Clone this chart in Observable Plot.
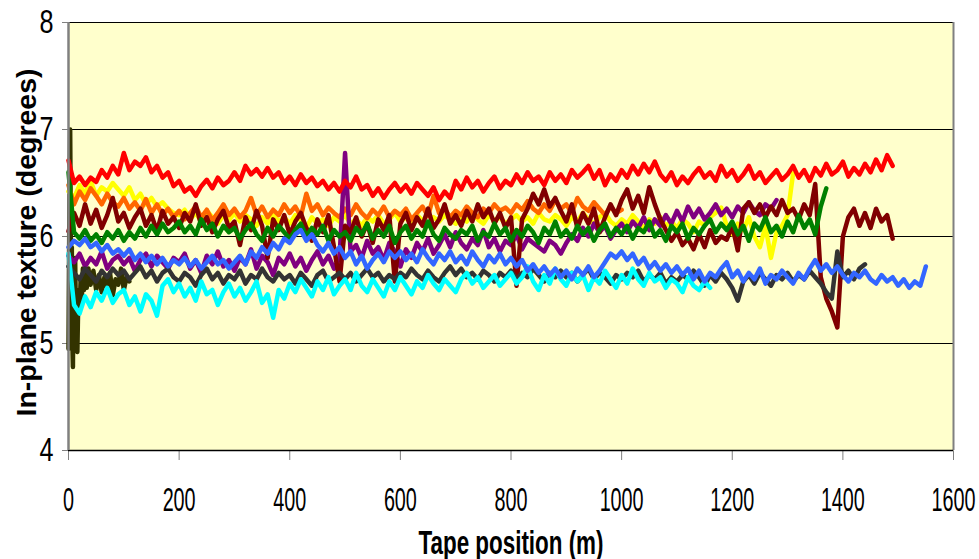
<!DOCTYPE html>
<html><head><meta charset="utf-8">
<script src="https://cdn.jsdelivr.net/npm/d3@7"></script>
<script src="https://cdn.jsdelivr.net/npm/@observablehq/plot@0.6"></script>
<style>
html,body{margin:0;padding:0;background:#fff;}
#chart svg{display:block;}
[aria-label="x-axis tick"] path,[aria-label="y-axis tick"] path,.tick line{stroke:#808080;}
</style>
</head><body><div id="chart"></div>
<script>
// ---- data ----
const xTicks = [0, 200, 400, 600, 800, 1000, 1200, 1400, 1600];
const yTicks = [4, 5, 6, 7, 8];
const xTitle = "Tape position (m)";
const yTitle = "In-plane texture (degrees)";
const sampleStep = 10; // metres between readings

const oliveX = [0,1,2,3,4,5,6,7,8,9,10,12,14,16,18,20,22,24,26,28,30,33,36,40,45,50,55,60,65,70,75,80,85,90,95,100,105,110];
const oliveValues = [4.95,5.8,6.5,7.0,6.2,5.2,5.9,5.0,4.78,5.6,5.3,5.8,5.0,4.92,5.5,5.3,5.6,5.4,5.7,5.5,5.65,5.52,5.7,5.55,5.68,5.5,5.64,5.48,5.62,5.52,5.66,5.45,5.6,5.55,5.7,5.5,5.62,5.58];

const yellowValues = [6.42,6.36,6.48,6.40,6.52,6.38,6.46,6.42,6.50,6.44,
6.38,6.46,6.34,6.40,6.30,6.36,6.28,6.32,6.26,6.22,
6.20,6.25,6.16,6.22,6.14,6.24,6.18,6.12,6.20,6.15,
6.22,6.14,6.20,6.16,6.10,6.18,6.12,6.20,6.14,6.18,
6.12,6.20,6.15,6.08,6.18,6.12,6.16,6.10,6.18,6.14,
6.20,6.12,6.16,6.10,6.18,6.14,6.20,6.12,6.16,6.22,
6.14,6.18,6.12,6.20,6.15,6.10,6.18,6.14,6.20,6.16,
6.12,6.18,6.14,6.22,6.16,6.12,6.20,6.15,6.18,6.12,
6.16,6.20,6.14,6.18,6.12,6.22,6.16,6.14,6.20,6.16,
6.10,6.18,6.14,6.22,6.16,6.12,6.18,6.22,6.14,6.10,
6.16,6.12,6.20,6.14,6.08,6.16,6.12,6.18,6.10,6.14,
6.08,6.16,6.12,6.04,6.14,6.10,6.18,6.22,6.27,6.10,
6.02,6.12,6.06,6.18,6.00,5.90,6.10,5.80,6.04,6.10,
6.20,6.59];

const orangeValues = [6.48,6.30,6.42,6.34,6.45,6.38,6.30,6.40,6.32,6.28,
6.36,6.26,6.32,6.24,6.35,6.22,6.30,6.20,6.26,6.18,
6.24,6.16,6.22,6.28,6.18,6.25,6.15,6.22,6.30,6.20,
6.26,6.18,6.24,6.36,6.20,6.28,6.18,6.25,6.20,6.30,
6.22,6.28,6.19,6.40,6.24,6.30,6.20,6.27,6.22,6.18,
6.26,6.20,6.30,6.22,6.17,6.25,6.20,6.28,6.18,6.24,
6.20,6.26,6.16,6.22,6.28,6.19,6.38,6.22,6.26,6.18,
6.24,6.20,6.28,6.22,6.18,6.26,6.22,6.30,6.24,6.27,
6.22,6.30,6.25,6.33,6.26,6.22,6.30,6.24,6.34,6.26,
6.30,6.22,6.36,6.28,6.24,6.32,6.26,6.20,6.28,6.22,
6.25];

const purpleValues = [5.82,5.76,5.84,5.72,5.80,5.74,5.86,5.70,5.78,5.82,
5.74,5.80,5.68,5.78,5.84,5.72,5.82,5.76,5.70,5.80,
5.76,5.84,5.70,5.78,5.66,5.82,5.74,5.86,5.72,5.78,
5.68,5.80,5.74,5.88,5.70,5.82,5.76,5.64,5.80,5.74,
5.84,5.72,5.80,5.68,5.78,5.86,5.74,5.82,5.70,5.80,
6.78,5.86,5.92,5.80,5.96,5.84,5.90,5.78,5.94,5.86,
5.72,5.88,5.80,5.94,5.86,5.98,5.84,5.92,6.02,5.90,
6.04,5.94,5.88,5.98,5.92,6.06,5.90,5.98,5.86,5.96,
5.92,6.02,5.88,5.98,5.94,5.90,5.86,5.96,5.92,5.84,
5.94,6.02,5.96,6.08,6.00,6.12,6.04,6.10,5.98,6.06,
6.12,6.04,6.14,6.08,6.18,6.06,6.16,6.10,6.20,6.12,
6.24,6.14,6.28,6.18,6.26,6.16,6.22,6.30,6.20,6.26,
6.18,6.28,6.22,6.32,6.24,6.20,6.30,6.26,6.34];

const maroonValues = [6.05,6.22,6.10,6.30,6.12,6.25,6.08,6.20,6.36,6.14,
6.22,6.08,6.18,6.26,6.10,6.20,6.05,6.24,6.12,6.18,
6.08,6.22,6.14,6.30,6.10,6.18,6.04,6.16,6.24,6.08,
6.14,5.92,6.18,6.06,6.24,6.10,5.80,6.16,6.06,6.20,
6.02,6.14,6.22,6.08,5.96,6.16,6.04,6.20,5.90,5.58,
6.10,6.04,6.18,6.00,6.12,5.94,6.16,6.06,6.20,5.58,
6.12,6.22,6.06,6.18,6.10,6.26,6.08,6.16,6.30,6.12,
6.20,6.10,6.24,6.14,6.30,6.18,6.26,6.12,6.22,6.08,
6.18,5.54,6.16,6.26,6.40,6.30,6.44,6.28,6.36,6.24,
6.14,6.30,6.08,6.22,6.12,6.26,6.04,6.18,6.30,6.20,
6.34,6.44,6.26,6.38,6.22,6.46,6.30,6.16,6.06,5.96,
6.04,5.92,5.98,5.88,6.02,5.90,6.06,5.94,6.00,5.97,
6.10,5.87,6.26,6.32,6.22,6.30,6.18,6.28,6.20,6.34,
6.22,6.26,6.16,6.30,6.20,6.49,5.62,5.42,5.30,5.15,
6.00,6.18,6.26,6.10,6.22,6.08,6.26,6.14,6.20,5.98];

const grayValues = [5.72,5.66,5.60,5.70,5.64,5.58,5.68,5.62,5.70,5.64,
5.68,5.60,5.66,5.72,5.62,5.68,5.58,5.66,5.70,5.62,
5.58,5.66,5.62,5.54,5.64,5.70,5.60,5.66,5.56,5.64,
5.60,5.68,5.56,5.64,5.60,5.70,5.62,5.58,5.66,5.60,
5.64,5.56,5.66,5.60,5.54,5.64,5.68,5.58,5.62,5.66,
5.60,5.66,5.58,5.64,5.70,5.62,5.66,5.58,5.64,5.60,
5.66,5.62,5.70,5.64,5.60,5.68,5.62,5.58,5.66,5.72,
5.64,5.70,5.62,5.66,5.60,5.68,5.64,5.58,5.66,5.62,
5.68,5.60,5.66,5.62,5.70,5.64,5.58,5.66,5.62,5.68,
5.62,5.66,5.58,5.64,5.70,5.60,5.66,5.62,5.56,5.64,
5.60,5.66,5.62,5.68,5.58,5.64,5.60,5.66,5.56,5.62,
5.58,5.64,5.60,5.68,5.62,5.54,5.64,5.58,5.66,5.60,
5.52,5.40,5.58,5.64,5.56,5.66,5.60,5.54,5.64,5.60,
5.66,5.58,5.64,5.60,5.68,5.62,5.56,5.48,5.42,5.86,
5.62,5.68,5.60,5.70,5.74];

const greenValues = [6.60,6.04,5.98,6.06,5.96,6.02,5.94,6.04,5.98,6.06,
5.96,6.04,5.98,6.08,6.00,6.10,6.02,6.12,6.04,6.08,
6.14,6.04,6.10,6.02,6.16,6.06,6.12,6.00,6.10,6.04,
6.08,5.98,6.06,6.12,6.02,5.96,6.08,6.00,6.10,6.04,
5.98,6.06,6.12,6.00,6.08,6.02,6.10,5.96,6.06,6.00,
6.04,5.96,6.08,6.02,6.12,5.98,6.06,6.00,6.10,5.94,
6.04,6.10,5.98,6.06,6.00,6.14,6.02,5.96,6.08,6.02,
5.98,6.06,6.02,6.10,5.96,6.04,6.00,6.12,6.02,6.08,
5.96,6.06,6.00,6.10,6.04,5.94,6.08,6.02,6.14,6.00,
6.06,5.98,6.10,6.02,6.08,5.96,6.06,6.12,6.00,6.08,
6.02,6.10,5.98,6.08,6.04,6.14,6.00,6.06,5.96,6.10,
6.04,6.12,5.98,6.08,6.02,6.10,6.16,6.04,6.12,6.06,
6.14,6.02,6.10,5.96,6.12,6.06,6.18,6.04,6.10,6.00,
6.14,6.04,6.20,6.08,6.16,6.02,6.28,6.45];

const cyanValues = [5.84,5.36,5.28,5.44,5.34,5.48,5.40,5.52,5.38,5.46,
5.50,5.36,5.44,5.30,5.46,5.40,5.26,5.54,5.60,5.48,
5.56,5.44,5.52,5.40,5.58,5.46,5.50,5.36,5.48,5.56,
5.44,5.52,5.40,5.48,5.58,5.38,5.46,5.24,5.50,5.42,
5.56,5.48,5.60,5.52,5.44,5.58,5.50,5.62,5.46,5.54,
5.60,5.50,5.66,5.54,5.48,5.60,5.52,5.44,5.58,5.50,
5.62,5.54,5.46,5.58,5.52,5.64,5.56,5.50,5.60,5.54,
5.48,5.60,5.66,5.56,5.62,5.52,5.58,5.64,5.54,5.60,
5.66,5.56,5.62,5.72,5.58,5.50,5.64,5.56,5.70,5.60,
5.54,5.66,5.58,5.64,5.50,5.62,5.56,5.68,5.60,5.52,
5.64,5.56,5.70,5.60,5.54,5.66,5.58,5.62,5.52,5.60,
5.56,5.48,5.62,5.54,5.50,5.58,5.52];

const blueValues = [5.90,5.96,5.92,5.98,5.90,5.94,5.86,5.92,5.84,5.88,
5.82,5.88,5.78,5.84,5.76,5.82,5.74,5.80,5.72,5.78,
5.74,5.80,5.72,5.78,5.70,5.76,5.82,5.74,5.78,5.70,
5.76,5.82,5.74,5.86,5.80,5.90,5.84,5.94,5.88,5.98,
5.94,6.02,6.06,5.96,6.02,5.92,5.86,5.94,5.84,5.90,
5.80,5.86,5.74,5.82,5.70,5.78,5.84,5.76,5.86,5.80,
5.86,5.78,5.84,5.76,5.88,5.80,5.74,5.84,5.78,5.86,
5.76,5.82,5.74,5.86,5.78,5.72,5.82,5.76,5.84,5.74,
5.80,5.72,5.78,5.68,5.74,5.66,5.72,5.64,5.70,5.62,
5.68,5.60,5.70,5.64,5.72,5.62,5.68,5.76,5.84,5.80,
5.86,5.78,5.84,5.74,5.80,5.70,5.76,5.68,5.74,5.66,
5.72,5.64,5.70,5.60,5.68,5.58,5.66,5.62,5.70,5.76,
5.62,5.68,5.58,5.66,5.60,5.70,5.56,5.64,5.60,5.68,
5.62,5.56,5.66,5.60,5.70,5.78,5.68,5.74,5.66,5.72,
5.64,5.58,5.66,5.62,5.68,5.60,5.56,5.64,5.58,5.62,
5.54,5.60,5.52,5.58,5.54,5.72];

const redValues = [6.71,6.50,6.56,6.48,6.55,6.51,6.62,6.55,6.66,6.58,
6.78,6.62,6.70,6.66,6.74,6.60,6.66,6.55,6.60,6.47,
6.52,6.42,6.46,6.38,6.47,6.53,6.45,6.55,6.48,6.52,
6.60,6.52,6.66,6.58,6.63,6.56,6.64,6.55,6.60,6.50,
6.56,6.48,6.58,6.50,6.55,6.47,6.52,6.44,6.50,6.42,
6.52,6.46,6.56,6.44,6.48,6.38,6.45,6.36,6.44,6.50,
6.42,6.48,6.40,6.50,6.44,6.38,6.46,6.34,6.42,6.36,
6.52,6.44,6.55,6.46,6.52,6.42,6.50,6.56,6.45,6.52,
6.48,6.58,6.50,6.60,6.52,6.56,6.48,6.60,6.52,6.58,
6.50,6.62,6.55,6.60,6.66,6.54,6.62,6.48,6.58,6.52,
6.62,6.55,6.66,6.58,6.68,6.60,6.70,6.58,6.52,6.60,
6.48,6.56,6.50,6.58,6.64,6.55,6.60,6.52,6.66,6.56,
6.62,6.52,6.58,6.66,6.54,6.60,6.50,6.56,6.62,6.53,
6.58,6.66,6.55,6.62,6.52,6.64,6.57,6.68,6.58,6.62,
6.70,6.56,6.64,6.58,6.68,6.60,6.72,6.62,6.76,6.66];

// draw order (bottom to top) and colours
const seriesOrder = ["olive","yellow","orange","purple","maroon","gray","green","cyan","blue","red"];
const seriesColors = {olive:"#333300", yellow:"#FFFF00", orange:"#FF6600", purple:"#800080", maroon:"#800000",
  gray:"#333333", green:"#008000", cyan:"#00FFFF", blue:"#3366FF", red:"#FF0000"};
const seriesValues = {yellow:yellowValues, orange:orangeValues, purple:purpleValues, maroon:maroonValues,
  gray:grayValues, green:greenValues, cyan:cyanValues, blue:blueValues, red:redValues};

function rowsFor(name) {
  if (name === "olive") return oliveX.map((x, i) => ({x, y: oliveValues[i]}));
  return seriesValues[name].map((y, i) => ({x: i * sampleStep, y}));
}

const FONT = '"Liberation Sans Narrow","Arial Narrow","Liberation Sans",Arial,sans-serif';

const chart = Plot.plot({
  width: 979, height: 559,
  marginLeft: 68, marginRight: 26, marginTop: 22, marginBottom: 109,
  style: {background: "#fff", fontFamily: FONT, fontSize: "33px", color: "#000", overflow: "visible"},
  x: {domain: [0, 1600], ticks: xTicks, tickSize: 10, tickPadding: 27, tickFormat: d => String(d), label: null},
  y: {domain: [4, 8], ticks: yTicks, tickSize: 6, tickPadding: 9, tickFormat: d => String(d), label: null},
  marks: [
    Plot.frame({fill: "#FFFFCC", stroke: null}),
    Plot.ruleY(yTicks.filter(v => v > 4), {stroke: "#000", strokeWidth: 1.2}),
    ...seriesOrder.map(name => Plot.line(rowsFor(name), {x: "x", y: "y", stroke: seriesColors[name],
      strokeWidth: 4.5, strokeLinejoin: "round", strokeLinecap: "round"})),
    Plot.ruleX([1600], {stroke: "#808080", strokeWidth: 2}),
    Plot.ruleY([4], {stroke: "#000", strokeWidth: 1.5}),
    Plot.ruleX([0], {stroke: "#808080", strokeWidth: 2.5}),
    Plot.text([xTitle], {frameAnchor: "bottom", dy: 103, lineAnchor: "bottom", textAnchor: "middle", fontWeight: "bold", fontSize: 34, fill: "#000"}),
    Plot.text([yTitle], {frameAnchor: "left", dx: -41, dy: 6, rotate: -90, textAnchor: "middle", lineAnchor: "middle", fontWeight: "bold", fontSize: 28, fill: "#000"})
  ]
});

document.getElementById("chart").appendChild(chart);

chart.querySelectorAll("text").forEach(t => {
  const s = t.textContent.trim();
  if (s === xTitle) {
    t.setAttribute("textLength", 185); t.setAttribute("lengthAdjust", "spacingAndGlyphs");
  } else if (s === yTitle) {
    t.setAttribute("textLength", 348); t.setAttribute("lengthAdjust", "spacingAndGlyphs");
  } else if (/^\d+$/.test(s)) {
    const g = t.closest("[aria-label]");
    const lab = g ? g.getAttribute("aria-label") : "";
    const perChar = lab.startsWith("y") ? 14 : 11;
    t.setAttribute("textLength", perChar * s.length);
    t.setAttribute("lengthAdjust", "spacingAndGlyphs");
    t.setAttribute("fill", "#000");
  }
});
</script>
</body></html>
